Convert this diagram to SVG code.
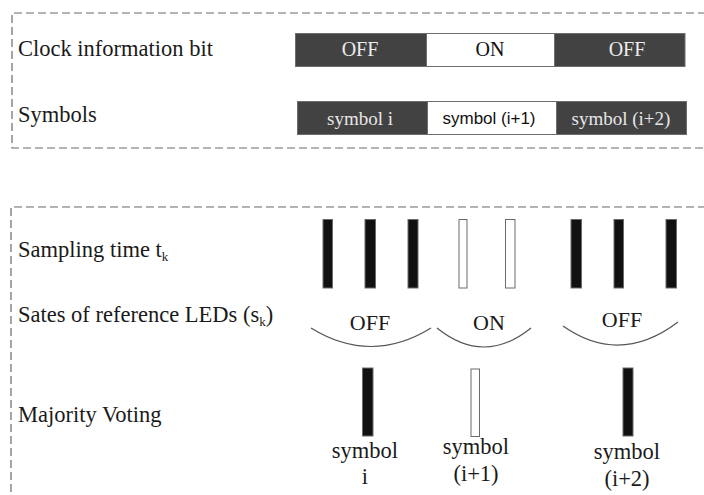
<svg xmlns="http://www.w3.org/2000/svg" width="704" height="495" viewBox="0 0 704 495">
  <style>
    .frame { fill: none; stroke: #6a6a6a; stroke-width: 1.2; stroke-dasharray: 8 4; }
    .lbl { font-family: "Liberation Serif", "Times New Roman", serif; font-size: 22.5px; fill: #1a1a1a; }
    .sub { font-size: 13px; }
    .dark { fill: #424242; stroke: #6e6e6e; stroke-width: 1; }
    .light { fill: #ffffff; stroke: #6e6e6e; stroke-width: 1; }
    .seg-dark-txt { font-family: "Liberation Serif", "Times New Roman", serif; font-size: 20px; fill: #ececec; text-anchor: middle; }
    .seg-light-txt { font-family: "Liberation Serif", "Times New Roman", serif; font-size: 20px; fill: #111; text-anchor: middle; }
    .sym-dark-txt { font-family: "Liberation Serif", "Times New Roman", serif; font-size: 19px; fill: #e6e6e6; text-anchor: middle; }
    .sym-light-txt { font-family: "Liberation Sans", Arial, sans-serif; font-size: 17px; fill: #111; text-anchor: middle; }
    .bar-on { fill: #111111; stroke: #6a6a6a; stroke-width: 1; }
    .bar-off { fill: #ffffff; stroke: #6a6a6a; stroke-width: 1; }
    .arc { fill: none; stroke: #555; stroke-width: 1.2; }
    .mid { text-anchor: middle; }
    .state { font-size: 22px; }
  </style>

  <!-- upper frame: clock bit and symbol timeline -->
  <g id="frame-top">
    <path class="frame" d="M706 13 H12 V148 H706"/>
  </g>

  <g id="label-clock"><text class="lbl" x="18" y="56">Clock information bit</text></g>
  <g id="label-symbols"><text class="lbl" x="18" y="121.5">Symbols</text></g>

  <g id="clock-bar">
    <rect class="dark" x="295.5" y="33.5" width="131" height="33"/>
    <rect class="light" x="426.5" y="33.5" width="128" height="33"/>
    <rect class="dark" x="554.5" y="33.5" width="130.5" height="33"/>
    <text class="seg-dark-txt" x="360" y="56">OFF</text>
    <text class="seg-light-txt" x="490" y="56">ON</text>
    <text class="seg-dark-txt" x="627" y="56">OFF</text>
  </g>

  <g id="symbol-bar">
    <rect class="dark" x="297.5" y="101.5" width="130" height="33"/>
    <rect class="light" x="427.5" y="101.5" width="129" height="33"/>
    <rect class="dark" x="556.5" y="101.5" width="130" height="33"/>
    <text class="sym-dark-txt" x="360" y="125">symbol i</text>
    <text class="sym-light-txt" x="489" y="124">symbol (i+1)</text>
    <text class="sym-dark-txt" x="621" y="125">symbol (i+2)</text>
  </g>

  <!-- lower frame: sampling and voting -->
  <g id="frame-bottom">
    <path class="frame" d="M706 207 H11 V497"/>
  </g>

  <g id="label-sampling"><text class="lbl" x="18" y="257">Sampling time t<tspan class="sub" dy="4">k</tspan></text></g>
  <g id="label-states"><text class="lbl" x="18" y="322">Sates of reference LEDs (s<tspan class="sub" dy="4">k</tspan><tspan dy="-4">)</tspan></text></g>
  <g id="label-voting"><text class="lbl" x="18" y="421.5">Majority Voting</text></g>

  <g id="samples">
    <rect class="bar-on" x="323" y="219.5" width="9.5" height="68.5"/>
    <rect class="bar-on" x="365" y="219.5" width="10.5" height="68.5"/>
    <rect class="bar-on" x="408" y="219.5" width="10" height="68.5"/>
    <rect class="bar-off" x="459" y="219.5" width="8" height="68.5"/>
    <rect class="bar-off" x="505.5" y="219.5" width="9.5" height="68.5"/>
    <rect class="bar-on" x="571" y="219.5" width="10.5" height="68.5"/>
    <rect class="bar-on" x="614" y="219.5" width="9.5" height="68.5"/>
    <rect class="bar-on" x="666" y="219.5" width="10.5" height="68.5"/>
  </g>

  <g id="states">
    <text class="lbl state mid" x="370" y="330">OFF</text>
    <text class="lbl state mid" x="489" y="330">ON</text>
    <text class="lbl state mid" x="622" y="327">OFF</text>
  </g>

  <g id="connectors">
    <path class="arc" d="M311 328 Q371 365 431 328"/>
    <path class="arc" d="M437 328 Q484 366 531 328"/>
    <path class="arc" d="M563 326 Q620 366 678 322"/>
  </g>

  <g id="votes">
    <rect class="bar-on" x="362.5" y="368" width="10.5" height="68"/>
    <rect class="bar-off" x="471" y="369" width="8.5" height="67.5"/>
    <rect class="bar-on" x="623" y="368" width="10" height="68"/>
  </g>

  <g id="vote-labels">
    <text class="lbl mid" x="365" y="458">symbol</text>
    <text class="lbl mid" x="365" y="484">i</text>
    <text class="lbl mid" x="476" y="454">symbol</text>
    <text class="lbl mid" x="476" y="481">(i+1)</text>
    <text class="lbl mid" x="627" y="459">symbol</text>
    <text class="lbl mid" x="627" y="486">(i+2)</text>
  </g>
</svg>
